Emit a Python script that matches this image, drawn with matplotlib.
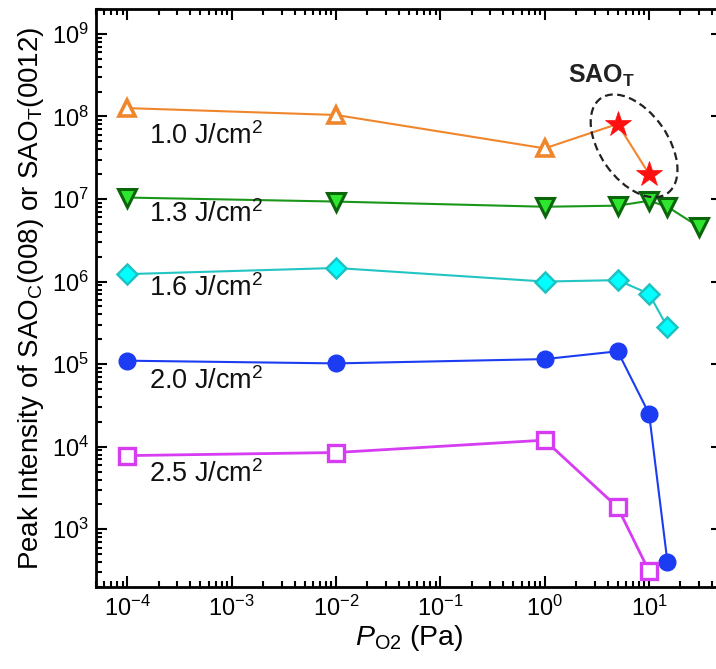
import matplotlib
matplotlib.use("Agg")
import matplotlib.pyplot as plt
from matplotlib.patches import Ellipse
from matplotlib.transforms import ScaledTranslation
import numpy as np

# --- data ---
p_o2 = [1e-4, 1e-2, 1, 5, 10]
p_o2_13 = [1e-4, 1e-2, 1, 5, 10, 15, 30]
p_o2_16 = [1e-4, 1e-2, 1, 5, 10, 15]
p_o2_20 = [1e-4, 1e-2, 1, 5, 10, 15]
p_o2_25 = [1e-4, 1e-2, 1, 5, 10]

i_10 = [1.26e8, 1.04e8, 4.1e7, 8.1e7, 2.0e7]   # last two = SAO_T (stars)
n_sao_c_10 = 3
i_13 = [1.04e7, 9.3e6, 8.05e6, 8.3e6, 9.5e6, 8.05e6, 4.6e6]
i_16 = [1.23e6, 1.46e6, 1.0e6, 1.04e6, 7.1e5, 2.8e5]
i_20 = [1.1e5, 1.02e5, 1.15e5, 1.43e5, 2.5e4, 4.0e2]
i_25 = [7.8e3, 8.5e3, 1.2e4, 1.84e3, 3.1e2]

labels = ["1.0 J/cm$^2$", "1.3 J/cm$^2$", "1.6 J/cm$^2$", "2.0 J/cm$^2$", "2.5 J/cm$^2$"]
label_y = [5.8e7, 6.6e6, 8.4e5, 6.3e4, 4.7e3]

plt.rcParams['font.family'] = ['Liberation Sans', 'DejaVu Sans']
plt.rcParams['mathtext.fontset'] = 'custom'
plt.rcParams['mathtext.rm'] = 'Liberation Sans'
plt.rcParams['mathtext.it'] = 'Liberation Sans:italic'
plt.rcParams['mathtext.bf'] = 'Liberation Sans:bold'

fig = plt.figure(figsize=(7.16, 6.69), dpi=100)
ax = fig.add_axes([0.1341, 0.1226, 0.8743, 0.864])

orange = '#f0862c'
lw = 1.5

# 1.0 J/cm2 : SAO_C triangles + SAO_T stars on one line
ax.plot(p_o2, i_10, color=orange, lw=lw, zorder=2)
ax.plot(p_o2[:n_sao_c_10], i_10[:n_sao_c_10], ls='none', marker='^', ms=11,
        mfc='white', mec=orange, mew=2.6, zorder=3)
ax.plot(p_o2[n_sao_c_10:], i_10[n_sao_c_10:], ls='none', marker='*', ms=19,
        mfc='#ff1010', mec='#ff1010', mew=0.5, zorder=3)

# 1.3 J/cm2
ax.plot(p_o2_13, i_13, color='#1a961a', lw=lw, marker='v', ms=13,
        mfc='#2ee62e', mec='#0b650b', mew=2.2, zorder=3)

# 1.6 J/cm2
ax.plot(p_o2_16, i_16, color='#22c4c4', lw=lw, marker='D', ms=10,
        mfc='#00ffff', mec='#1fc2c2', mew=1.8, zorder=3)

# 2.0 J/cm2
ax.plot(p_o2_20, i_20, color='#1b3cf2', lw=lw, marker='o', ms=12,
        mfc='#1b3cf2', mec='#1b3cf2', zorder=3)

# 2.5 J/cm2
ax.plot(p_o2_25, i_25, color='#d63cf2', lw=2, marker='s', ms=11,
        mfc='white', mec='#d63cf2', mew=2.4, zorder=3)

for lab, y in zip(labels, label_y):
    ax.text(1.6e-4, y, lab, fontsize=19.5, ha='left', va='center', color='#111111')

# SAO_T circle
tr = fig.dpi_scale_trans + ScaledTranslation(7.18, 4.4e7, ax.transData)
ax.add_patch(Ellipse((0, 0), 1.16, 0.68, angle=-55, transform=tr, fill=False,
                     ec='#222222', lw=1.6, ls=(0, (3.5, 2)), zorder=4))
ax.text(3.5, 3.1e8, r"SAO$_\mathbf{T}$", fontsize=18, fontweight='bold',
        ha='center', va='center', color='#222222')

ax.set_xscale('log')
ax.set_yscale('log')
ax.set_xlim(5e-5, 50)
ax.set_ylim(2e2, 2e9)
ax.set_xticks([1e-4, 1e-3, 1e-2, 1e-1, 1, 10])
ax.set_yticks([1e3, 1e4, 1e5, 1e6, 1e7, 1e8, 1e9])

ax.tick_params(which='both', direction='in', top=True, right=True, width=1.5)
ax.tick_params(which='major', length=8, labelsize=17)
ax.tick_params(which='minor', length=4)
ax.tick_params(axis='y', pad=5)
ax.tick_params(axis='x', pad=6)
for s in ax.spines.values():
    s.set_linewidth(2)

ax.set_xlabel(r"$\it{P}_{\rm O2}$ (Pa)", fontsize=20.5, labelpad=2)
ax.set_ylabel(r"Peak Intensity of SAO$_{\rm C}$(008) or SAO$_{\rm T}$(0012)",
              fontsize=20, labelpad=4)

fig.savefig("out.png", dpi=100)
